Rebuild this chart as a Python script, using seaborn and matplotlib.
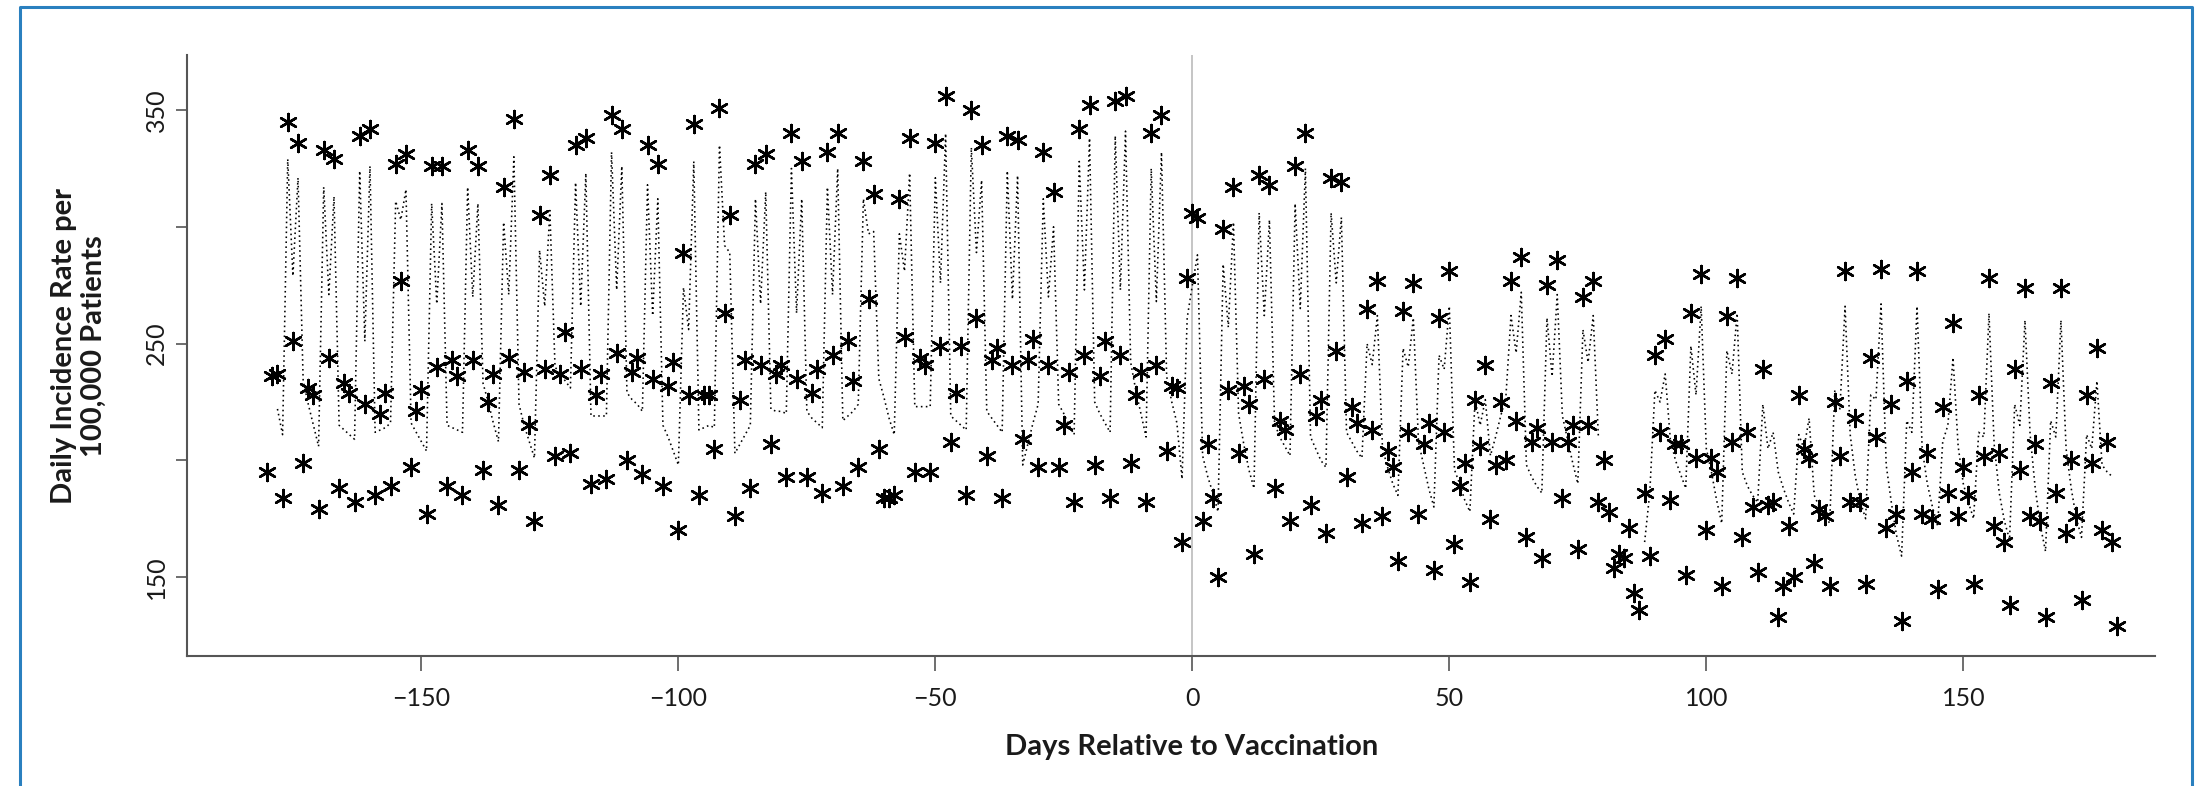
import numpy as np
import pandas as pd
import matplotlib
matplotlib.use("Agg")
import matplotlib.pyplot as plt
import seaborn as sns
from matplotlib.lines import Line2D

NA = np.nan

# Days relative to vaccination (x categories)
days = list(range(-180, 181))

# Observed daily incidence (asterisks), one value per day
obs_a = [195, 236, 237, 184, 345, 251, 336,
         199, 231, 228, 179, 333, 244, 329,
         188, 233, 229, 182, 339, 224, 342,
         185, 220, 229, 189, 327, 277, 331,
         197, 221, 230, 177, 326, 240, 326,
         189, 243, 236, 185, 333, 243, 326,
         196, 225, 237, 181, 317, 244, 346,
         196, 238, 215, 174, 305, 239, 322]
obs_b = [202, 237, 255, 203, 335, 239, 338,
         190, 228, 237, 192, 348, 246, 342,
         200, 238, 244, 194, 335, 235, 327,
         189, 232, 242, 170, 289, 228, 344,
         185, 228, 228, 205, 351, 263, 305,
         176, 226, 243, 188, 327, 241, 331,
         207, 237, 241, 193, 340, 235, 328,
         193, 229, 239, 186, 332, 245, 340]
obs_c = [189, 251, 234, 197, 328, 269, 314,
         205, 184, 184, 185, 312, 253, 338,
         195, 244, 241, 195, 336, 249, 356,
         208, 229, 249, 185, 350, 261, 335,
         202, 243, 248, 184, 339, 241, 337,
         209, 243, 252, 197, 332, 241, 315,
         197, 215, 238, 182, 342, 245, 352,
         198, 236, 251, 184, 354, 245, 356]
obs_d = [199, 228, 238, 182, 340, 241, 348,
         204, 232, 231, 165, 278, 306, 304,
         174, 207, 184, 150, 299, 230, 317,
         203, 232, 224, 160, 322, 235, 318,
         188, 217, 213, 174, 326, 237, 340,
         181, 219, 226, 169, 321, 247, 319,
         193, 223, 216, 173, 265, 213, 277,
         176, 204, 197, 157, 264, 212, 276]
obs_e = [177, 207, 216, 153, 261, 212, 281,
         164, 189, 199, 148, 226, 206, 241,
         175, 198, 225, 200, 277, 217, 287,
         167, 208, 214, 158, 275, 208, 286,
         184, 208, 215, 162, 270, 215, 277,
         182, 200, 178, 154, 160, 158, 171,
         143, 136, 186, 159, 245, 212, 252,
         183, 207, 207, 151, 263, 201, 280]
obs_f = [170, 201, 195, 146, 262, 208, 278,
         167, 212, 180, 152, 239, 181, 182,
         133, 146, 172, 150, 228, 205, 201,
         156, 179, 176, 146, 225, 202, 281,
         182, 218, 182, 147, 244, 210, 282,
         171, 224, 177, 131, 234, 195, 281,
         177, 203, 175, 145, 223, 186, 259,
         176, 197, 185, 147, 228, 202, 278]
obs_g = [172, 203, 165, 138, 239, 196, 274,
         176, 207, 174, 133, 233, 186, 274,
         169, 200, 176, 140, 228, 199, 248,
         170, 208, 165, 129]

# Fitted values (dotted line), one value per day, NA where the line is absent
fit_a = [NA, NA, 222, 211, 329, 279, 321,
         234, 224, 215, 206, 317, 271, 313,
         215, 213, 211, 209, 324, 251, 326,
         212, 213, 214, 216, 311, 303, 316,
         216, 212, 208, 204, 310, 267, 310,
         215, 214, 213, 212, 317, 270, 310,
         233, 225, 216, 208, 302, 271, 330,
         224, 215, 208, 201, 290, 266, 307]
fit_b = [240, 237, 234, 231, 319, 266, 323,
         219, 219, 219, 219, 332, 273, 326,
         229, 226, 224, 221, 318, 262, 312,
         215, 210, 204, 198, 274, 256, 328,
         213, 214, 215, 214, 335, 292, 289,
         203, 207, 211, 215, 312, 267, 315,
         222, 221, 221, 220, 325, 263, 312,
         221, 218, 216, 214, 317, 271, 325]
fit_c = [217, 219, 221, 224, 312, 297, 298,
         235, 227, 218, 211, 297, 281, 323,
         223, 223, 223, 223, 321, 276, 340,
         219, 217, 215, 213, 334, 289, 320,
         221, 218, 215, 212, 324, 269, 322,
         198, 207, 216, 224, 312, 270, 300,
         224, 220, 215, 211, 328, 273, 338,
         225, 220, 216, 212, 339, 273, 341]
fit_d = [242, 230, 220, 210, 325, 268, 332,
         236, 225, 216, 192, 261, 275, 288,
         202, 193, 186, 178, 284, 257, 302,
         220, 207, 196, 188, 306, 262, 303,
         216, 210, 206, 202, 310, 265, 325,
         210, 205, 200, 197, 306, 276, 304,
         212, 208, 204, 201, 250, 241, 262,
         205, 197, 190, 185, 248, 240, 261]
fit_e = [208, 198, 188, 180, 245, 239, 266,
         196, 190, 183, 178, 226, 215, 226,
         202, 210, 219, 227, 262, 246, 272,
         198, 193, 189, 186, 261, 236, 271,
         219, 209, 199, 190, 256, 242, 262,
         210, NA, NA, NA, NA, NA, NA,
         NA, NA, 165, 186, 230, 225, 237,
         209, 200, 194, 188, 249, 228, 266]
fit_f = [205, 195, 183, 173, 247, 237, 263,
         195, 189, 185, 182, 224, 205, 212,
         195, 188, 182, 177, 211, 205, 218,
         185, 180, 177, 173, 230, 222, 266,
         211, 193, 182, 175, 228, 226, 267,
         198, 182, 168, 159, 217, 212, 266,
         205, 190, 180, 172, 208, 215, 244,
         206, 190, 182, 175, 212, 210, 263]
fit_g = [207, 186, 174, 166, 224, 215, 260,
         211, 188, 172, 161, 217, 210, 260,
         205, 188, 175, 167, 211, 205, 234,
         198, 195, 193, NA]

x_ticks = [-150, -100, -50, 0, 50, 100, 150]
x_tick_labels = ["\u2212150", "\u2212100", "\u221250", "0", "50", "100", "150"]
y_ticks = [150, 200, 250, 300, 350]
y_tick_labels = ["150", "", "250", "", "350"]

observed = obs_a + obs_b + obs_c + obs_d + obs_e + obs_f + obs_g
fitted = fit_a + fit_b + fit_c + fit_d + fit_e + fit_f + fit_g

df = pd.DataFrame({"day": days, "observed": observed, "fitted": fitted})
df["segment"] = df["fitted"].isna().cumsum()
fit_df = df.dropna(subset=["fitted"])

sns.set_theme(style="white")
plt.rcParams["font.family"] = ["Lato", "DejaVu Sans"]

W, H = 2208, 786
fig = plt.figure(figsize=(W / 100, H / 100), dpi=100)
fig.patch.set_facecolor("white")

left_px, right_px, top_px, bottom_px = 187, 2155, 55, 656
ax = fig.add_axes([left_px / W, 1 - bottom_px / H,
                   (right_px - left_px) / W, (bottom_px - top_px) / H])
ax.set_facecolor("white")

ax.axvline(0, color="#b5b5b5", lw=1.1, zorder=1)

sns.lineplot(data=fit_df, x="day", y="fitted", units="segment", estimator=None,
             color="black", lw=1.15, linestyle=(0, (1, 2.1)), ax=ax,
             legend=False, zorder=2)

sns.scatterplot(data=df, x="day", y="observed", marker=(6, 2, 0), s=150,
                color="black", edgecolor="black", linewidth=1.8, ax=ax,
                legend=False, zorder=3)

ax.set_xlim(-195.6, 187.3)
ax.set_ylim(116.2, 373.6)
ax.set_xticks(x_ticks)
ax.set_xticklabels(x_tick_labels)
ax.set_yticks(y_ticks)
ax.set_yticklabels(y_tick_labels)
ax.set_xlabel("")
ax.set_ylabel("")

ax.tick_params(axis="x", bottom=True, length=11, width=1.2, color="#555555",
               pad=11, labelsize=18, labelcolor="#1a1a1a", direction="out")
ax.tick_params(axis="y", left=True, length=7.7, width=1.2, color="#555555",
               pad=6, labelsize=18, labelcolor="#1a1a1a", direction="out")
for lab in ax.get_yticklabels():
    lab.set_rotation(90)
    lab.set_va("center")

for side in ["top", "right"]:
    ax.spines[side].set_visible(False)
for side in ["left", "bottom"]:
    ax.spines[side].set_color("#555555")
    ax.spines[side].set_linewidth(1.5)

fig.text(1192 / W, 1 - 747 / H, "Days Relative to Vaccination", ha="center",
         va="center", fontsize=21, fontweight="bold", color="#1a1a1a")
fig.text(79 / W, 1 - 346 / H, "Daily Incidence Rate per\n100,000 Patients",
         rotation=90, ha="center", va="center", fontsize=21,
         fontweight="bold", color="#1a1a1a", linespacing=1.15)

# Blue frame around the figure
fig.add_artist(Line2D([20 / W, 20 / W, 2192 / W, 2192 / W],
                      [0, 1 - 7 / H, 1 - 7 / H, 0],
                      transform=fig.transFigure, color="#2a80bf", lw=2.2))

fig.savefig("out.png", dpi=100, facecolor="white")
